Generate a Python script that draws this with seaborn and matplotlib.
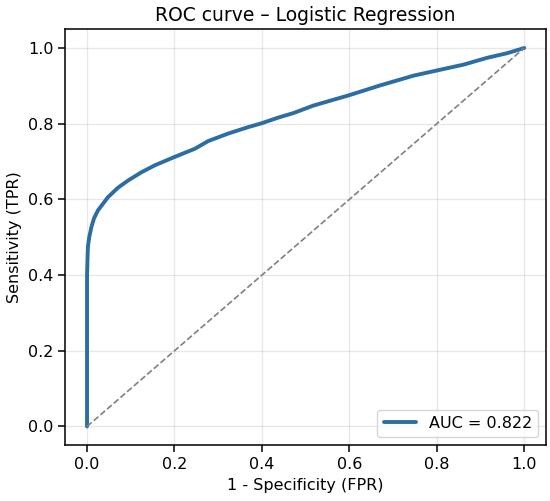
import matplotlib
matplotlib.use("Agg")
import matplotlib.pyplot as plt
import seaborn as sns
import pandas as pd

fpr = [0.0, 0.0, 0.0, 0.001, 0.002, 0.005, 0.010, 0.016, 0.025, 0.048, 0.071, 0.094, 0.125,
       0.155, 0.2, 0.247, 0.277, 0.323, 0.369, 0.399, 0.437, 0.472, 0.518, 0.599, 0.670,
       0.747, 0.798, 0.861, 0.915, 0.960, 1.0]
tpr = [0.0, 0.2, 0.40, 0.44, 0.475, 0.50, 0.527, 0.55, 0.571, 0.606, 0.631, 0.650, 0.672,
       0.690, 0.712, 0.734, 0.754, 0.774, 0.791, 0.801, 0.816, 0.828, 0.848, 0.875, 0.901,
       0.927, 0.940, 0.956, 0.974, 0.986, 1.0]
auc_label = "AUC = 0.822"
chance = [0.0, 1.0]

sns.set_style("ticks")
plt.rcParams['font.family'] = ['DejaVu Sans']
plt.rcParams['text.color'] = 'black'
plt.rcParams['axes.labelcolor'] = 'black'
plt.rcParams['xtick.color'] = 'black'
plt.rcParams['ytick.color'] = 'black'

fig, ax = plt.subplots(figsize=(5.5, 5.01), dpi=100)
df = pd.DataFrame({"fpr": fpr, "tpr": tpr})
sns.lineplot(data=df, x="fpr", y="tpr", ax=ax, color="#2c6ea3", linewidth=2.8,
             label=auc_label, sort=False, estimator=None)
ax.plot(chance, chance, linestyle="--", color="gray", linewidth=1.2)
ax.set_xlim(-0.05, 1.05)
ax.set_ylim(-0.05, 1.05)
ax.set_xticks([0, 0.2, 0.4, 0.6, 0.8, 1.0])
ax.set_yticks([0, 0.2, 0.4, 0.6, 0.8, 1.0])
ax.grid(True, alpha=0.3, color="#b0b0b0", linewidth=0.9)
ax.tick_params(labelsize=11.5, direction="out", length=5, width=1.1, color="black")
for s in ax.spines.values():
    s.set_color("black")
    s.set_linewidth(1.1)
ax.set_xlabel("1 - Specificity (FPR)", fontsize=11.5)
ax.set_ylabel("Sensitivity (TPR)", fontsize=11.5)
ax.set_title("ROC curve – Logistic Regression", fontsize=13.5)
leg = ax.legend(loc="lower right", fontsize=11.5, frameon=True)
fig.subplots_adjust(left=0.1185, right=0.993, bottom=0.111, top=0.942)
fig.savefig("out.png", dpi=100)
